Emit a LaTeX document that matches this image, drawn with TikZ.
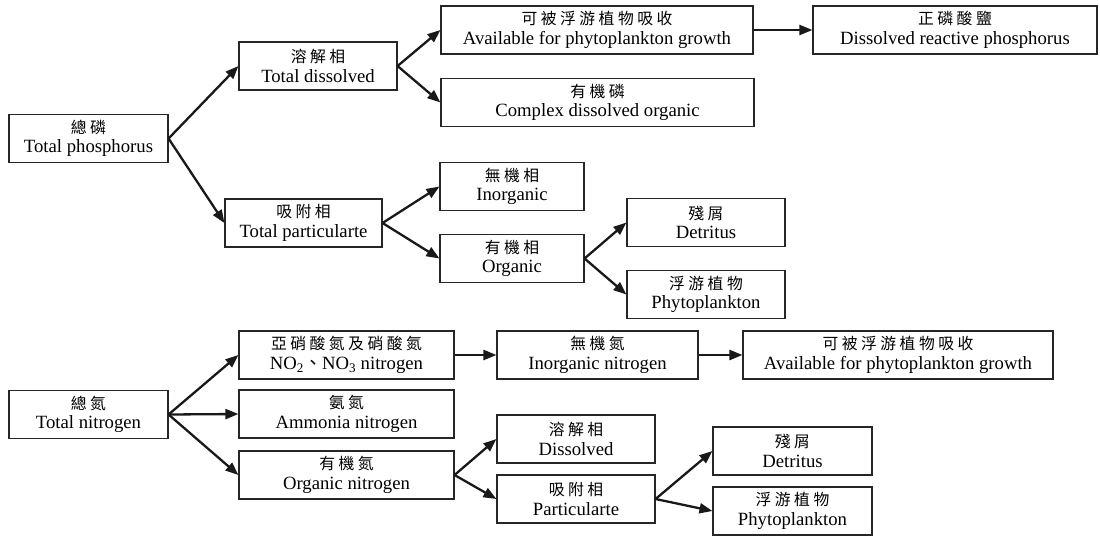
\documentclass[tikz,border=0pt]{standalone}
\usepackage{fontspec}
\setmainfont{Liberation Serif}
\newfontfamily\cjk[LetterSpace=22]{Noto Sans CJK TC}
\usetikzlibrary{arrows.meta}
\tikzset{
  box/.style={draw=black!85, line width=1.1pt, rectangle, inner sep=0pt,
    minimum height=48pt, align=center,
    font=\fontsize{18.7}{19.5}\selectfont},
  arr/.style={-{Triangle[length=13pt,width=10pt]}, line width=2.3pt, draw=black!90}
}
\newcommand{\zh}[1]{{\cjk\fontsize{15.8}{19.5}\selectfont #1}}
\begin{document}
\begin{tikzpicture}[x=1pt,y=-1pt]
\useasboundingbox (0,0) rectangle (1100,536);
% phosphorus
\node[box, minimum width=159pt] (tp)   at (88.5,138.5) {\zh{總磷}\\Total phosphorus};
\node[box, minimum width=158pt] (td)   at (318,66)     {\zh{溶解相}\\Total dissolved};
\node[box, minimum width=157pt] (tpa)  at (303.5,223)  {\zh{吸附相}\\Total particularte};
\node[box, minimum width=312pt] (avP)  at (597,30)     {\zh{可被浮游植物吸收}\\Available for phytoplankton growth};
\node[box, minimum width=284pt] (drp)  at (955,30)     {\zh{正磷酸鹽}\\Dissolved reactive phosphorus};
\node[box, minimum width=313pt] (cdo)  at (597.5,102.5){\zh{有機磷}\\Complex dissolved organic};
\node[box, minimum width=144pt] (inorg) at (512,186.5) {\zh{無機相}\\Inorganic};
\node[box, minimum width=144pt] (org)  at (512,258.5)  {\zh{有機相}\\Organic};
\node[box, minimum width=158pt] (detP) at (706,222.5)  {\zh{殘屑}\\Detritus};
\node[box, minimum width=158pt] (phyP) at (706,294.5)  {\zh{浮游植物}\\Phytoplankton};
% nitrogen
\node[box, minimum width=159pt] (tn)   at (88.5,414.5) {\zh{總氮}\\Total nitrogen};
\node[box, minimum width=215pt] (no)   at (346.5,355)  {\zh{亞硝酸氮及硝酸氮}\\NO\textsubscript{2}{\cjk\fontsize{18}{19}\selectfont 、}NO\textsubscript{3} nitrogen};
\node[box, minimum width=215pt] (amm)  at (346.5,414)  {\zh{氨氮}\\Ammonia nitrogen};
\node[box, minimum width=215pt] (orgN) at (346.5,475)  {\zh{有機氮}\\Organic nitrogen};
\node[box, minimum width=201pt] (inN)  at (597.5,355)  {\zh{無機氮}\\Inorganic nitrogen};
\node[box, minimum width=310pt] (avN)  at (898,355)    {\zh{可被浮游植物吸收}\\Available for phytoplankton growth};
\node[box, minimum width=158pt] (disN) at (576,439)    {\zh{溶解相}\\Dissolved};
\node[box, minimum width=158pt] (parN) at (576,499)    {\zh{吸附相}\\Particularte};
\node[box, minimum width=159pt] (detN) at (792.5,451)  {\zh{殘屑}\\Detritus};
\node[box, minimum width=159pt] (phyN) at (792.5,511)  {\zh{浮游植物}\\Phytoplankton};
% connectors phosphorus
\draw[arr] (tp.east) -- (td.west);
\draw[arr] (tp.east) -- (tpa.west);
\draw[arr] (td.east) -- (avP.west);
\draw[arr] (td.east) -- (cdo.west);
\draw[arr] (avP.east) -- (drp.west);
\draw[arr] (tpa.east) -- (inorg.west);
\draw[arr] (tpa.east) -- (org.west);
\draw[arr] (org.east) -- (detP.west);
\draw[arr] (org.east) -- (phyP.west);
% connectors nitrogen
\draw[arr] (tn.east) -- (no.west);
\draw[arr] (tn.east) -- (amm.west);
\draw[arr] (tn.east) -- (orgN.west);
\draw[arr] (no.east) -- (inN.west);
\draw[arr] (inN.east) -- (avN.west);
\draw[arr] (orgN.east) -- (disN.west);
\draw[arr] (orgN.east) -- (parN.west);
\draw[arr] (parN.east) -- (detN.west);
\draw[arr] (parN.east) -- (phyN.west);
\end{tikzpicture}
\end{document}
